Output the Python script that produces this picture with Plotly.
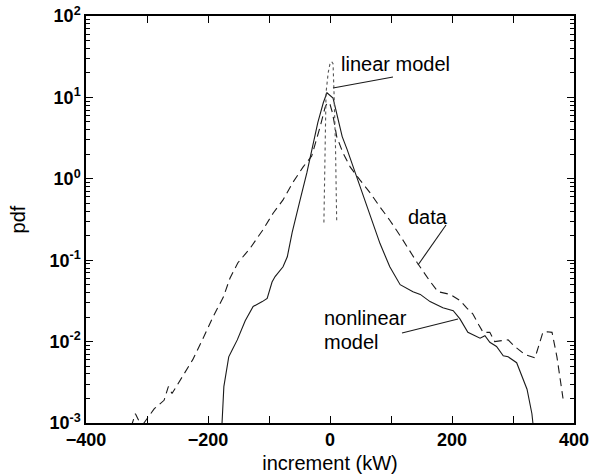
import plotly.graph_objects as go

# ---- data ----
data_x = [-326, -319, -313, -309, -305, -288, -272, -265, -259, -241, -225, -208, -192,
          -175, -164, -151, -131, -111, -93, -77, -61, -44, -30, -16, -8, -4, 0, 4,
          11, 21, 33, 49, 66, 82, 98, 115, 131, 143, 164, 177, 197, 213, 224, 234,
          244, 251, 262, 270, 282, 292, 303, 320, 336, 349, 356, 364, 372, 382]
data_y = [0.0009, 0.0013, 0.00105, 0.0008, 0.001, 0.0015, 0.0019, 0.0028, 0.0023, 0.0039,
          0.006, 0.011, 0.02, 0.035, 0.06, 0.093, 0.14, 0.23, 0.38, 0.55, 0.9, 1.4, 1.9,
          4.4, 7.6, 8.7, 8.2, 6.5, 3.3, 2.1, 1.4, 0.97, 0.67, 0.45, 0.31, 0.2, 0.13,
          0.093, 0.055, 0.041, 0.038, 0.032, 0.026, 0.022, 0.016, 0.013, 0.013, 0.010,
          0.0103, 0.0105, 0.0087, 0.0069, 0.0063, 0.013, 0.0132, 0.013, 0.0065, 0.002]

nonlin_x = [-180, -177, -174, -166, -160, -152, -139, -126, -111, -103, -95, -90, -77,
            -70, -62, -55, -49, -38, -28, -20, -11, -5, 5, 11, 20, 28, 38, 49, 61, 70,
            82, 98, 115, 136, 148, 164, 185, 202, 213, 226, 246, 254, 262, 273, 284,
            292, 306, 323, 331, 334]
nonlin_y = [0.0008, 0.001, 0.0028, 0.0065, 0.008, 0.0105, 0.018, 0.027, 0.031, 0.034,
            0.054, 0.063, 0.083, 0.11, 0.22, 0.35, 0.55, 1.18, 2.5, 4.9, 8.6, 11.4, 9.8,
            6.5, 3.3, 2.3, 1.4, 0.8, 0.45, 0.29, 0.16, 0.083, 0.05, 0.041, 0.038, 0.031,
            0.026, 0.024, 0.019, 0.013, 0.011, 0.0118, 0.0098, 0.0087, 0.0067, 0.0065,
            0.0055, 0.0026, 0.0013, 0.0008]

lin_x = [-10, -8.5, -6.5, -3, 0, 2.7, 5, 6.5, 9, 11]
lin_y = [0.29, 2.5, 11.4, 20, 26, 27.5, 26, 12, 2.5, 0.29]

x_ticks = [-400, -200, 0, 200, 400]
x_minor = [-300, -100, 100, 300]
y_exps = [-3, -2, -1, 0, 1, 2]

# ---- layout helpers (pixel -> paper) ----
L, R, T, B = 86, 574, 16, 423
def px(x):
    return (x - L) / (R - L)
def py(y):
    return (B - y) / (B - T)

FONT = "Liberation Sans, Arial, Helvetica, sans-serif"
INK = "#1a1a1a"

fig = go.Figure()
fig.add_trace(go.Scatter(x=data_x, y=data_y, mode="lines", name="data",
                         line=dict(color=INK, width=1.1, dash="8px,5px")))
fig.add_trace(go.Scatter(x=nonlin_x, y=nonlin_y, mode="lines", name="nonlinear model",
                         line=dict(color=INK, width=1.1)))
fig.add_trace(go.Scatter(x=lin_x, y=lin_y, mode="lines", name="linear model",
                         line=dict(color="#555555", width=1.1, dash="dot")))

y_minor = [k * 10.0 ** e for e in y_exps[:-1] for k in range(2, 10)]

fig.update_layout(
    width=589, height=474,
    margin=dict(l=L, r=589 - R, t=T, b=474 - B),
    paper_bgcolor="white", plot_bgcolor="white",
    showlegend=False,
    font=dict(family=FONT, color="black"),
    xaxis=dict(
        range=[-400, 400], tickvals=x_ticks, automargin=False,
        ticktext=[str(v).replace("-", "\u2212") for v in x_ticks],
        ticklabeloverflow="allow",
        ticks="inside", ticklen=7, tickwidth=1.2, tickcolor="black",
        minor=dict(tickvals=x_minor, ticks="inside", ticklen=7, tickwidth=1.2, tickcolor="black"),
        showline=True, linecolor="black", linewidth=1.5, mirror="allticks",
        showgrid=False, zeroline=False,
        tickfont=dict(size=18, weight="bold", family=FONT),
        title=dict(text="increment (kW)", font=dict(size=20, family=FONT), standoff=10),
    ),
    yaxis=dict(
        type="log", range=[-3, 2], automargin=False,
        tickvals=[10.0 ** e for e in y_exps],
        ticktext=["10<sup>%d</sup>" % e for e in y_exps],
        ticklabeloverflow="allow",
        ticks="inside", ticklen=7, tickwidth=1.2, tickcolor="black",
        minor=dict(tickvals=y_minor, ticks="inside", ticklen=4, tickwidth=1, tickcolor="black"),
        showline=True, linecolor="black", linewidth=1.5, mirror="allticks",
        showgrid=False, zeroline=False,
        tickfont=dict(size=18, weight="bold", family=FONT),
        title=dict(text="pdf", font=dict(size=20, family=FONT), standoff=18),
    ),
)

ann_font = dict(size=20, family=FONT, color="black")
fig.add_annotation(text="linear model", xref="paper", yref="paper", x=px(339), y=py(64),
                   xanchor="left", yanchor="middle", showarrow=False, font=ann_font)
fig.add_annotation(text="data", xref="paper", yref="paper", x=px(428), y=py(217),
                   xanchor="center", yanchor="middle", showarrow=False, font=ann_font)
fig.add_annotation(text="nonlinear", xref="paper", yref="paper", x=px(322), y=py(318),
                   xanchor="left", yanchor="middle", showarrow=False, font=ann_font)
fig.add_annotation(text="model", xref="paper", yref="paper", x=px(322), y=py(342),
                   xanchor="left", yanchor="middle", showarrow=False, font=ann_font)

for (x0, y0, x1, y1) in [(333, 88, 393, 77), (446, 225, 418, 265), (402, 333, 458, 319)]:
    fig.add_shape(type="line", xref="paper", yref="paper",
                  x0=px(x0), y0=py(y0), x1=px(x1), y1=py(y1),
                  line=dict(color=INK, width=1.1))

fig.write_html("out.html")
